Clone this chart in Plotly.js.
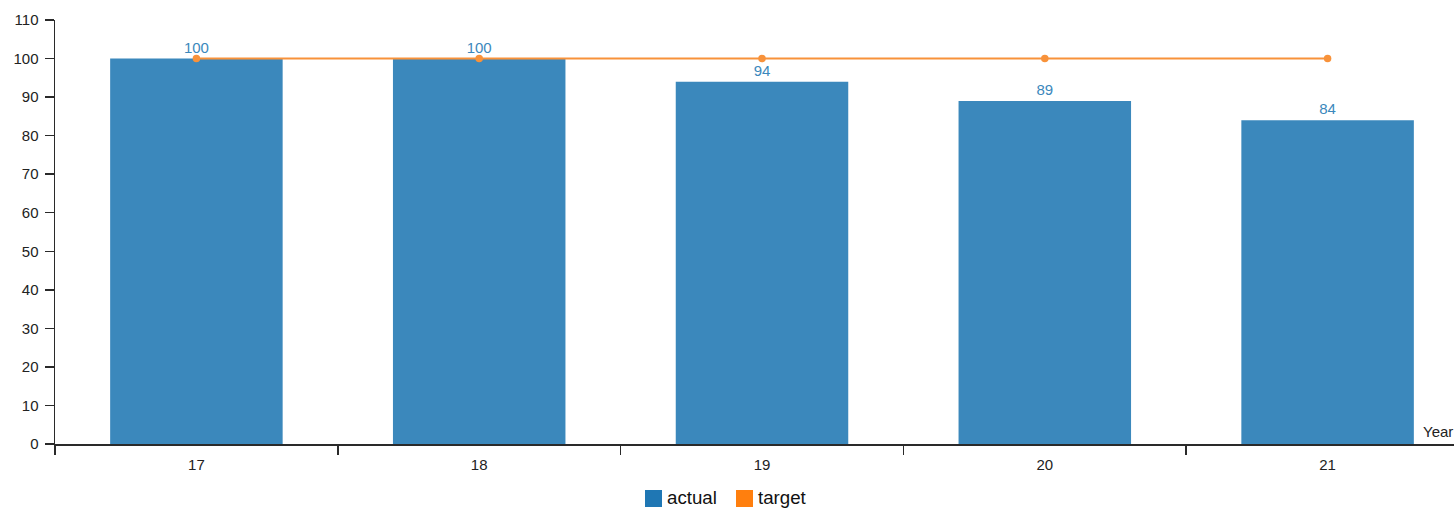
<!DOCTYPE html>
<html>
<head>
<meta charset="utf-8">
<script src="https://cdn.plot.ly/plotly-3.0.1.min.js"></script>
<style>
  html, body { margin: 0; padding: 0; overflow: hidden; background: #fff; }
  #chart { width: 1480px; height: 508px; }
</style>
</head>
<body>
<div id="chart"></div>
<script>
// Yearly actual vs. target
const years = ['17', '18', '19', '20', '21'];
const actual = [100, 100, 94, 89, 84];
const target = [100, 100, 100, 100, 100];
const yTicks = [0, 10, 20, 30, 40, 50, 60, 70, 80, 90, 100, 110];

const BAR_COLOR = '#3b88bc';
const LEGEND_BLUE = '#1f77b4';
const ORANGE = '#ff7f0e';
const LINE_ORANGE = '#f8923a';
const AXIS = '#2a2a2a';
const FONT = 'Liberation Sans, Arial, Helvetica, sans-serif';

// plot box in page pixels
const L = 55, R = 1469, T = 20, B = 444, W = 1480, H = 508;
const px = x => (x - L) / (R - L);
const py = y => (B - y) / (B - T);

const traces = [
  {
    type: 'bar',
    name: 'actual',
    x: years,
    y: actual,
    marker: { color: BAR_COLOR },
    texttemplate: '%{y}',
    textposition: 'outside',
    outsidetextfont: { family: FONT, size: 15, color: BAR_COLOR },
    cliponaxis: false,
    showlegend: false,
    hoverinfo: 'x+y'
  },
  {
    type: 'scatter',
    mode: 'lines+markers',
    name: 'target',
    x: years,
    y: target,
    line: { color: LINE_ORANGE, width: 2 },
    marker: { color: LINE_ORANGE, size: 7.5 },
    cliponaxis: false,
    showlegend: false
  }
];

const layout = {
  width: W,
  height: H,
  margin: { l: L, r: W - R, t: T, b: H - B, pad: 0 },
  paper_bgcolor: '#fff',
  plot_bgcolor: '#fff',
  font: { family: FONT, size: 15, color: '#222' },
  bargap: 0.39,
  showlegend: false,
  xaxis: {
    type: 'category',
    range: [-0.5, 4.5],
    showgrid: false,
    zeroline: false,
    showline: true,
    linecolor: AXIS,
    linewidth: 1.5,
    ticks: 'outside',
    tickson: 'boundaries',
    ticklen: 9,
    tickwidth: 1.5,
    tickcolor: AXIS,
    ticklabelstandoff: 6,
    tickfont: { family: FONT, size: 15, color: '#222' },
    fixedrange: true
  },
  yaxis: {
    range: [0, 110],
    tickvals: yTicks,
    ticktext: yTicks.map(String),
    showgrid: false,
    zeroline: false,
    showline: true,
    linecolor: AXIS,
    linewidth: 1.5,
    ticks: 'outside',
    ticklen: 9,
    tickwidth: 1.5,
    tickcolor: AXIS,
    ticklabelstandoff: 3,
    tickfont: { family: FONT, size: 15, color: '#222' },
    fixedrange: true
  },
  shapes: [
    { type: 'rect', xref: 'paper', yref: 'paper',
      x0: px(645), x1: px(662), y0: py(507), y1: py(490),
      fillcolor: LEGEND_BLUE, line: { width: 0 } },
    { type: 'rect', xref: 'paper', yref: 'paper',
      x0: px(736), x1: px(753), y0: py(507), y1: py(490),
      fillcolor: ORANGE, line: { width: 0 } }
  ],
  annotations: [
    { xref: 'paper', yref: 'paper', x: px(665), y: py(498), xanchor: 'left', yanchor: 'middle',
      text: 'actual', showarrow: false, font: { family: FONT, size: 18.7, color: '#111' } },
    { xref: 'paper', yref: 'paper', x: px(756), y: py(498), xanchor: 'left', yanchor: 'middle',
      text: 'target', showarrow: false, font: { family: FONT, size: 18.7, color: '#111' } },
    { xref: 'paper', yref: 'paper', x: px(1421), y: py(431), xanchor: 'left', yanchor: 'middle',
      text: 'Year', showarrow: false, font: { family: FONT, size: 15, color: '#222' } }
  ]
};

Plotly.newPlot('chart', traces, layout, { displayModeBar: false, staticPlot: true });
</script>
</body>
</html>
